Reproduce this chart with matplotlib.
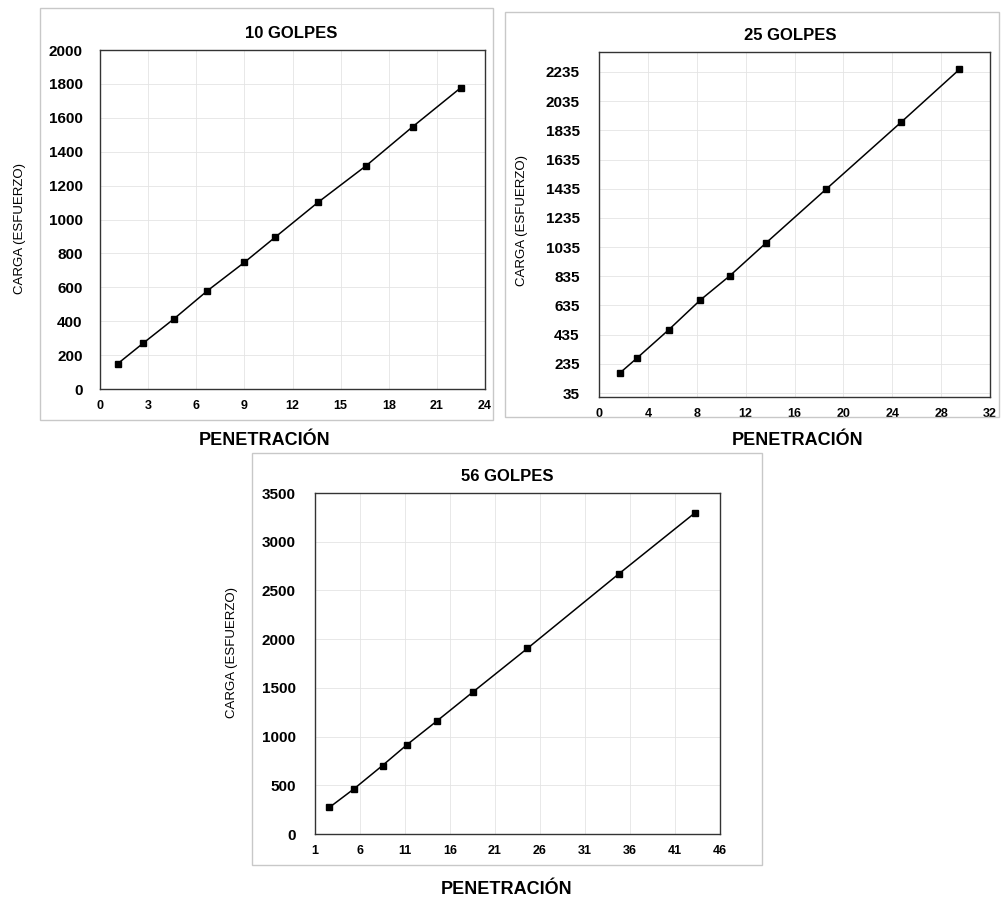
import numpy as np
import matplotlib
matplotlib.use("Agg")
import matplotlib.pyplot as plt
from matplotlib.patches import Rectangle

W, H = 1001, 897

# 10 golpes
pen_10 = [1.1, 2.7, 4.6, 6.7, 9.0, 10.9, 13.6, 16.6, 19.5, 22.5]
carga_10 = [149, 271, 413, 580, 747, 894, 1102, 1318, 1548, 1778]
xticks_10 = [0, 3, 6, 9, 12, 15, 18, 21, 24]
yticks_10 = [0, 200, 400, 600, 800, 1000, 1200, 1400, 1600, 1800, 2000]

# 25 golpes
pen_25 = [1.7, 3.1, 5.7, 8.3, 10.7, 13.7, 18.6, 24.7, 29.5]
carga_25 = [172, 274, 468, 673, 838, 1066, 1433, 1889, 2253]
xticks_25 = [0, 4, 8, 12, 16, 20, 24, 28, 32]
yticks_25 = [35, 235, 435, 635, 835, 1035, 1235, 1435, 1635, 1835, 2035, 2235]

# 56 golpes
pen_56 = [2.6, 5.3, 8.5, 11.2, 14.6, 18.5, 24.6, 34.8, 43.2]
carga_56 = [273, 461, 703, 915, 1164, 1454, 1905, 2673, 3295]
xticks_56 = [1, 6, 11, 16, 21, 26, 31, 36, 41, 46]
yticks_56 = [0, 500, 1000, 1500, 2000, 2500, 3000, 3500]

FONT = "Liberation Sans"
plt.rcParams["font.family"] = [FONT, "DejaVu Sans"]


def px_axes(fig, x0, y0, x1, y1):
    return fig.add_axes([x0 / W, 1 - y1 / H, (x1 - x0) / W, (y1 - y0) / H])


def frame(fig, x0, y0, x1, y1):
    fig.patches.append(Rectangle((x0 / W, 1 - y1 / H), (x1 - x0) / W, (y1 - y0) / H,
                                 transform=fig.transFigure, fill=False,
                                 edgecolor="#c8c8c8", linewidth=1.0))


def draw_panel(fig, box, x, y, xticks, yticks, xlim, ylim, title, title_xy,
               xlabel_xy, ylabel_xy, ypad=12.5):
    ax = px_axes(fig, *box)
    ax.plot(x, y, color="black", linewidth=1.1, marker="s", markersize=4,
            markerfacecolor="black", markeredgecolor="black")
    ax.set_xlim(*xlim)
    ax.set_ylim(*ylim)
    ax.set_xticks(xticks)
    ax.set_yticks(yticks)
    ax.grid(True, color="#e4e4e4", linewidth=0.6)
    ax.set_axisbelow(True)
    ax.tick_params(axis="x", length=0, pad=8, labelsize=9)
    ax.tick_params(axis="y", length=0, pad=ypad, labelsize=11)
    for lab in ax.get_xticklabels() + ax.get_yticklabels():
        lab.set_fontweight("bold")
    for sp in ax.spines.values():
        sp.set_color("#333333")
        sp.set_linewidth(1.0)
    fig.text(title_xy[0] / W, 1 - title_xy[1] / H, title, ha="center",
             va="center", fontsize=12, fontweight="bold")
    fig.text(xlabel_xy[0] / W, 1 - xlabel_xy[1] / H, "PENETRACIÓN",
             ha="center", va="center", fontsize=13, fontweight="bold")
    fig.text(ylabel_xy[0] / W, 1 - ylabel_xy[1] / H, "CARGA (ESFUERZO)",
             ha="center", va="center", rotation=90, fontsize=9.5)
    return ax


fig = plt.figure(figsize=(W / 100, H / 100), dpi=100)
fig.patch.set_facecolor("white")

frame(fig, 40, 8, 493, 420)
frame(fig, 505, 12, 999, 417)
frame(fig, 252, 453, 762, 865)

draw_panel(fig, (100, 50, 485, 389), pen_10, carga_10, xticks_10, yticks_10,
           (0, 24), (0, 2000), "10 GOLPES", (291, 33), (265, 440), (20, 228))
draw_panel(fig, (599, 52, 990, 397), pen_25, carga_25, xticks_25, yticks_25,
           (0, 32), (8, 2372), "25 GOLPES", (790, 35), (798, 440), (522, 220),
           ypad=14)
draw_panel(fig, (315, 493, 720, 834), pen_56, carga_56, xticks_56, yticks_56,
           (1, 46), (0, 3500), "56 GOLPES", (507, 476), (507, 889), (232, 652),
           ypad=14)

fig.savefig("out.png", dpi=100)
